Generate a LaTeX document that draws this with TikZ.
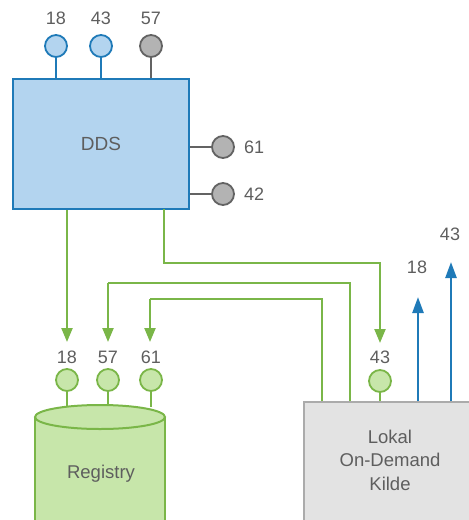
\documentclass[tikz,border=0pt]{standalone}
\usepackage{fontspec}
\setmainfont{Liberation Sans}
\usetikzlibrary{arrows.meta}
\definecolor{bluefill}{HTML}{B3D4EF}
\definecolor{blueline}{HTML}{1F7AB8}
\definecolor{grayfill}{HTML}{B3B3B3}
\definecolor{grayline}{HTML}{636363}
\definecolor{greenline}{HTML}{7AB648}
\definecolor{greenfill}{HTML}{C7E6AA}
\definecolor{boxfill}{HTML}{E3E3E3}
\definecolor{boxline}{HTML}{ABABAB}
\definecolor{txt}{HTML}{5E5E5E}
\tikzset{
  bport/.style={circle,draw=blueline,fill=bluefill,line width=1.8pt,minimum size=22pt,inner sep=0pt},
  gport/.style={circle,draw=grayline,fill=grayfill,line width=1.8pt,minimum size=22pt,inner sep=0pt},
  grport/.style={circle,draw=greenline,fill=greenfill,line width=1.8pt,minimum size=22pt,inner sep=0pt},
  num/.style={text=txt,font=\fontsize{18}{21}\selectfont,inner sep=0pt},
  bstem/.style={draw=blueline,line width=2pt},
  gstem/.style={draw=grayline,line width=2pt},
  grstem/.style={draw=greenline,line width=2pt},
  garrow/.style={draw=greenline,line width=2.2pt,-{Triangle[width=11pt,length=14pt]}},
  barrow/.style={draw=blueline,line width=2.5pt,-{Triangle[width=11pt,length=16pt]}},
  gline/.style={draw=greenline,line width=2.2pt}
}
\begin{document}
\begin{tikzpicture}[x=1pt,y=-1pt]
\useasboundingbox (0,0) rectangle (469,520);
\clip (0,0) rectangle (469,520);
% DDS
\node[draw=blueline,fill=bluefill,line width=2pt,minimum width=176pt,minimum height=130pt,inner sep=0pt,text=txt,font=\fontsize{19}{22}\selectfont] (dds) at (101,144) {DDS};
% top ports
\node[bport] (d18) at (56,46) {};
\node[bport] (d43) at (101,46) {};
\node[gport] (d57) at (151,46) {};
\node[num] (ld18) at (56,18) {18};
\node[num] (ld43) at (101,18) {43};
\node[num] (ld57) at (151,18) {57};
\draw[bstem] (d18.south) -- (d18.south |- dds.north);
\draw[bstem] (d43.south) -- (d43.south |- dds.north);
\draw[gstem] (d57.south) -- (d57.south |- dds.north);
% right ports
\node[gport] (d61) at (223,147) {};
\node[gport] (d42) at (223,194) {};
\node[num,anchor=west] (ld61) at (244,147) {61};
\node[num,anchor=west] (ld42) at (244,194) {42};
\draw[gstem] (d61.west -| dds.east) -- (d61.west);
\draw[gstem] (d42.west -| dds.east) -- (d42.west);
% Registry cylinder
\fill[greenfill] (35,417) -- (35,540) -- (165,540) -- (165,417) arc[start angle=0,end angle=-180,x radius=65,y radius=12] -- cycle;
\draw[greenline,line width=2pt] (35,417) -- (35,540) (165,417) -- (165,540);
\draw[greenline,line width=2pt,fill=greenfill] (100,417) ellipse[x radius=65,y radius=12];
\node[text=txt,font=\fontsize{18.5}{22}\selectfont] (reg) at (101,474) {Registry};
% registry ports
\node[grport] (r18) at (67,380) {};
\node[grport] (r57) at (108,380) {};
\node[grport] (r61) at (151,380) {};
\node[num] (lr18) at (67,357) {18};
\node[num] (lr57) at (108,357) {57};
\node[num] (lr61) at (151,357) {61};
\draw[grstem] (r18.south) -- (67,407);
\draw[grstem] (r57.south) -- (108,405);
\draw[grstem] (r61.south) -- (151,407);
% Lokal box
\node[draw=boxline,fill=boxfill,line width=2pt,minimum width=176pt,minimum height=140pt,inner sep=0pt,anchor=north west] (lok) at (303,401) {};
\node[text=txt,font=\fontsize{18.5}{23.5}\selectfont,align=center] (loktxt) at (390,460) {Lokal\\On-Demand\\Kilde};
\node[grport] (k43) at (380,381) {};
\node[num] (lk43) at (380,357) {43};
\draw[grstem] (k43.south) -- (k43.south |- lok.north);
% green connectors
\coordinate (t18) at (67,342);
\coordinate (t57) at (108,342);
\coordinate (t61) at (150,342);
\coordinate (t43) at (380,343);
\draw[garrow] (t18 |- dds.south) -- (t18);
\draw[garrow] (164,209) |- (380,263) -- (t43);
\draw[gline] (350,401) |- (108,283);
\draw[garrow] (108,283) -- (t57);
\draw[gline] (322,401) |- (150,299);
\draw[garrow] (150,299) -- (t61);
% blue arrows
\coordinate (b18) at (418,297);
\coordinate (b43) at (451,262);
\draw[barrow] (b18 |- lok.north) -- (b18);
\draw[barrow] (b43 |- lok.north) -- (b43);
\node[num] (lb18) at (417,267) {18};
\node[num] (lb43) at (450,234) {43};
\end{tikzpicture}
\end{document}
